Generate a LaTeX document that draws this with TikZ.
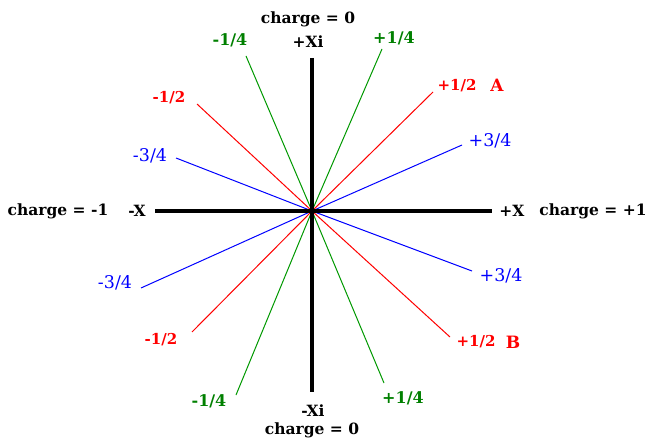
\documentclass[tikz,border=0pt]{standalone}
\usepackage{fontspec}
\setmainfont{DejaVu Serif}
\begin{document}
\begin{tikzpicture}[x=1pt,y=-1pt,
  axis/.style={line width=4pt,black},
  ray/.style={line width=1pt},
  lbl/.style={inner sep=0pt,font=\fontsize{15.5}{15.5}\selectfont\bfseries},
  gl/.style={inner sep=0pt,text=green!50!black,font=\fontsize{16}{16}\selectfont\bfseries},
  rl/.style={inner sep=0pt,text=red,font=\fontsize{15}{15}\selectfont\bfseries},
  rb/.style={inner sep=0pt,text=red,font=\fontsize{17}{17}\selectfont\bfseries},
  bl/.style={inner sep=0pt,text=blue,font=\fontsize{17.5}{17.5}\selectfont}]
\useasboundingbox[fill=white] (0,0) rectangle (646,441);
\coordinate (O) at (312,211);
% ray end points
\coordinate (g1) at (246,56);  \coordinate (g2) at (382,49);
\coordinate (g3) at (236,395); \coordinate (g4) at (384,383);
\coordinate (r1) at (197,104); \coordinate (r2) at (433,92);
\coordinate (r3) at (192,332); \coordinate (r4) at (450,337);
\coordinate (b1) at (176,158); \coordinate (b2) at (462,145);
\coordinate (b3) at (141,288); \coordinate (b4) at (472,271);
\coordinate (xl) at (155,211); \coordinate (xr) at (492,211);
\coordinate (yt) at (312,58);  \coordinate (yb) at (312,392);
% rays
\foreach \e in {g1,g2,g3,g4} \draw[ray,green!60!black] (O) -- (\e);
\foreach \e in {r1,r2,r3,r4} \draw[ray,red] (O) -- (\e);
\foreach \e in {b1,b2,b3,b4} \draw[ray,blue] (O) -- (\e);
% axes
\draw[axis] (xl) -- (xr);
\draw[axis] (yt) -- (yb);
% black labels
\node[lbl] (ct) at (308,19) {charge = 0};
\node[lbl] (xi) at (308,42) {+Xi};
\node[lbl] (mxi) at (313,411) {-Xi};
\node[lbl] (cb) at (312,430) {charge = 0};
\node[lbl] (cl) at (58,211) {charge = -1};
\node[lbl] (mx) at (137,211) {-X};
\node[lbl] (px) at (512,211) {+X};
\node[lbl] (cr) at (593,211) {charge = +1};
% green
\node[gl] (lg1) at (230,40) {-1/4};
\node[gl] (lg2) at (394,38) {+1/4};
\node[gl] (lg3) at (209,401) {-1/4};
\node[gl] (lg4) at (403,398) {+1/4};
% red
\node[rl] (lr1) at (169,98) {-1/2};
\node[rl] (lr2) at (457,86) {+1/2};
\node[rb] (la) at (497,85) {A};
\node[rl] (lr3) at (161,340) {-1/2};
\node[rl] (lr4) at (476,342) {+1/2};
\node[rb] (lb) at (513,342) {B};
% blue
\node[bl] (lb1) at (150,156) {-3/4};
\node[bl] (lb2) at (490,141) {+3/4};
\node[bl] (lb3) at (115,283) {-3/4};
\node[bl] (lb4) at (501,276) {+3/4};
\end{tikzpicture}
\end{document}
